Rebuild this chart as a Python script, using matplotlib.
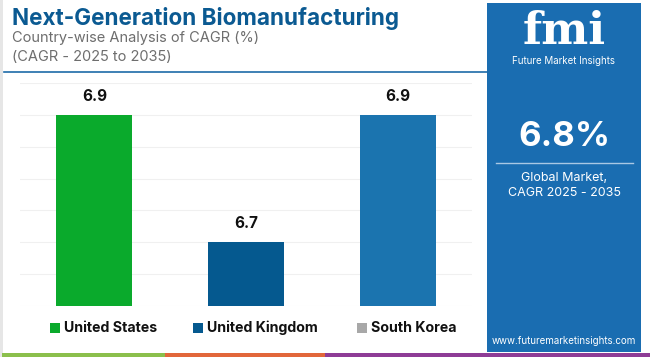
import matplotlib
matplotlib.use("Agg")
import matplotlib.pyplot as plt
from matplotlib.patches import Rectangle
from matplotlib.lines import Line2D

categories = ["United States", "United Kingdom", "South Korea"]
values = [6.9, 6.7, 6.9]
bar_colors = ["#0AAA2C", "#05598F", "#1B74AF"]
legend_colors = ["#0AAA2C", "#05598F", "#A8A8A8"]
title = "Next-Generation Biomanufacturing"
subtitle1 = "Country-wise Analysis of CAGR (%)"
subtitle2 = "(CAGR - 2025 to 2035)"
global_value = "6.8%"

W, H = 650, 357
fig = plt.figure(figsize=(6.5, 3.57), dpi=100)
fig.patch.set_facecolor("white")

def fx(x): return x / W
def fy(y): return 1 - y / H

# light border on left
fig.add_artist(Rectangle((0, 0), fx(3), 1, transform=fig.transFigure, color="#E6E6E6", lw=0))

# Title
fig.text(fx(12), fy(18), title, fontsize=16.2, fontweight="bold", color="#0B5A92",
         family="Inter", va="center", ha="left")
fig.text(fx(12), fy(38), subtitle1, fontsize=10.5, color="#6E6E6E", family="Inter", va="center")
fig.text(fx(12), fy(57), subtitle2, fontsize=10.5, color="#6E6E6E", family="Inter", va="center")
fig.add_artist(Line2D([fx(4), fx(487)], [fy(72), fy(72)], transform=fig.transFigure,
                      color="#1E6BA8", lw=1.2))

# Main axes
ax = fig.add_axes([fx(20), fy(306), fx(472 - 20), (306 - 83) / H])
x = list(range(len(categories)))
ax.bar(x, values, width=0.5, color=bar_colors, zorder=3)
ax.set_ylim(6.6, 6.95)
ax.set_xlim(-0.49, 2.49)
ax.set_yticks([6.6 + 0.05 * i for i in range(8)])
ax.grid(axis="y", color="#F0F0F0", lw=0.8, zorder=0)
ax.tick_params(left=False, bottom=False, labelleft=False, labelbottom=False)
for s in ax.spines.values():
    s.set_visible(False)
for xi, v in zip(x, values):
    ax.annotate(f"{v:.1f}", (xi, v), xytext=(0, 8), textcoords="offset points",
                ha="center", va="bottom", fontsize=11, fontweight="bold", color="#111111",
                family="Inter")

# Legend
leg_sq_x = [50, 193, 357]
for lx, c, lab in zip(leg_sq_x, legend_colors, categories):
    fig.add_artist(Rectangle((fx(lx), fy(333)), fx(10), 10 / H, transform=fig.transFigure,
                             color=c, lw=0))
    fig.text(fx(lx + 14), fy(328), lab, fontsize=10.2, fontweight="bold", color="#111111",
             family="Inter", va="center", ha="left")

# Bottom colored strip
for x0, x1, c in [(2, 165, "#8BBF4C"), (165, 325, "#E2673A"), (325, 650, "#8E3C96")]:
    fig.add_artist(Rectangle((fx(x0), 0), fx(x1 - x0), 4 / H, transform=fig.transFigure,
                             color=c, lw=0))

# Right panel
px0, px1, py0, py1 = 487, 641, 3, 352
fig.add_artist(Rectangle((fx(px0), fy(py1)), fx(px1 - px0), (py1 - py0) / H,
                         transform=fig.transFigure, color="#1A6DB1", lw=0))
cx = fx((px0 + px1) / 2)
fig.text(cx, fy(32), "fmi", fontsize=32, fontweight="bold", color="white",
         family="DejaVu Serif", ha="center", va="center")
fig.text(cx, fy(61), "Future Market Insights", fontsize=7, color="white",
         family="Inter", ha="center", va="center")
fig.text(cx, fy(137), global_value, fontsize=25, fontweight="bold", color="white",
         family="Inter", ha="center", va="center")
fig.add_artist(Line2D([fx(496), fx(633)], [fy(163), fy(163)], transform=fig.transFigure,
                      color="#A9C8E4", lw=1))
fig.text(cx, fy(178), "Global Market,", fontsize=9, color="white", family="Inter",
         ha="center", va="center")
fig.text(cx, fy(193), "CAGR 2025 - 2035", fontsize=9, color="white", family="Inter",
         ha="center", va="center")
fig.text(cx, fy(341), "www.futuremarketinsights.com", fontsize=7, color="white",
         family="Inter", ha="center", va="center")

fig.savefig("out.png", dpi=100, facecolor="white")
